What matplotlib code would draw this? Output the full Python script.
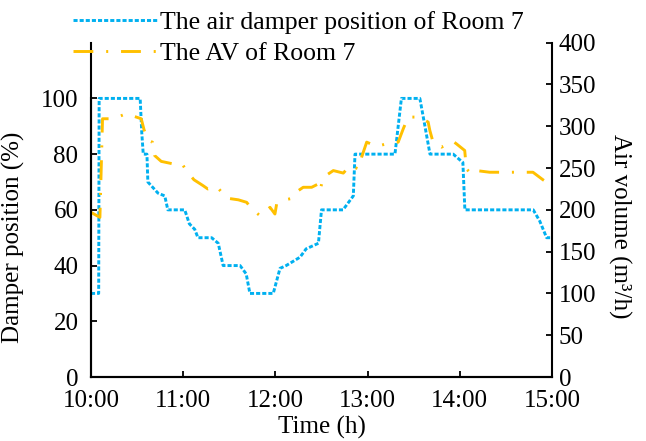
import matplotlib
matplotlib.use('Agg')
import matplotlib.pyplot as plt
import numpy as np

plt.rcParams['font.family'] = ['Liberation Serif', 'DejaVu Serif']
plt.rcParams['font.size'] = 18

# blue curve: minutes after 10:00 and damper position (%)
damper_min = [0, 5, 5.3, 32, 33, 34, 36.4, 37, 43.6, 48, 50, 61, 64, 67.5, 69.6, 78.5,
              82.8, 86, 97, 101, 103.4, 118.6, 123, 127, 136, 140, 148, 150, 164, 170.7,
              171.8, 197.8, 202, 214, 217, 220.6, 235.7, 242, 243.3, 287.8, 292, 296.5, 300]
damper_pos = [30, 30, 100, 100, 88, 80, 80, 70, 66, 65, 60, 60, 55, 53, 50, 50,
              48, 40, 40, 37, 30, 30, 39, 40, 43, 46, 48, 60, 60, 65,
              80, 80, 100, 100, 91, 80, 80, 77, 60, 60, 56, 50, 50]

# orange curve: minutes after 10:00 and air volume (m3/h)
av_min = [0, 5.8, 7.5, 14.3, 23, 32.7, 34.5, 37, 40, 41.4, 45.7, 53.4, 55.5, 60, 62, 67,
          72.9, 76, 81.8, 88.3, 95.9, 101.3, 104.6, 110, 116.5, 119.7, 120.8, 126.2, 131.6,
          134.9, 138.1, 143.6, 147.9, 149, 151.2, 157.7, 164.2, 168.5, 174, 176.1, 179.4,
          185.9, 194.5, 199.9, 203.2, 206.4, 214, 219.4, 220.5, 222.6, 228.1, 235.6, 237.8,
          243.2, 244.3, 247.5, 250.8, 259.4, 287.6, 294.1, 300]
av_val = [197, 191, 309, 309, 315, 309, 296, 283, 281, 265, 258, 255, 257, 253, 247, 236,
          229, 225, 228, 214, 212, 209, 201, 193, 203, 195, 207, 212, 214,
          223, 227, 227, 231, 223, 239, 247, 244, 253, 249, 263, 281,
          276, 280, 281, 297, 311, 311, 305, 295, 281, 275, 282, 279,
          271, 249, 243, 247, 245, 245, 236, 229]

hour_ticks = [10, 11, 12, 13, 14, 15]
hour_labels = ['10:00', '11:00', '12:00', '13:00', '14:00', '15:00']

fig = plt.figure(figsize=(6.46, 4.41), dpi=100)
ax = fig.add_axes([91 / 646, 1 - 377 / 441, 461 / 646, 334.3 / 441])
ax2 = ax.twinx()

t1 = 10 + np.array(damper_min) / 60
t2 = 10 + np.array(av_min) / 60

l1, = ax.plot(t1, damper_pos, color='#00B0F0', lw=2.1, linestyle=(0, (1.4, 0.7)),
              label='The air damper position of Room 7')
l2, = ax2.plot(t2, av_val, color='#FFC000', lw=2.1, linestyle=(0, (6.8, 4.4, 0.7, 4.4)),
               label='The AV of Room 7')

ax.set_xlim(10, 15)
ax.set_ylim(0, 120)
ax.set_yticks([0, 20, 40, 60, 80, 100])
ax.spines['left'].set_bounds(0, 100)
ax2.set_ylim(0, 400)
ax2.set_yticks(range(0, 401, 50))
ax.set_xticks(hour_ticks)
ax.set_xticklabels(hour_labels)

for a in (ax, ax2):
    a.spines['top'].set_visible(False)
    for s in a.spines.values():
        s.set_linewidth(1.5)
ax.spines['right'].set_visible(False)

ax.tick_params(axis='y', direction='in', length=4, width=1.3, pad=9)
ax.tick_params(axis='x', direction='in', length=4, width=1.3, pad=9.5)
ax2.tick_params(axis='y', direction='in', length=4, width=1.3, pad=5)

ax.set_xlabel('Time (h)', labelpad=2.5)
ax.set_ylabel('Damper position (%)')
ax.yaxis.set_label_coords(-0.143, 0.4167)
ax2.set_ylabel('Air volume (m³/h)', rotation=270, va='center')
ax2.yaxis.set_label_coords(1.147, 0.45)

fig.legend(handles=[l1, l2], loc='upper left', bbox_to_anchor=(73 / 646, 1 - 11 / 441),
           frameon=False, borderpad=0, borderaxespad=0, handlelength=3.3,
           handletextpad=0.1, labelspacing=0.3, fontsize=18.5)

fig.savefig('out.png', dpi=100)
